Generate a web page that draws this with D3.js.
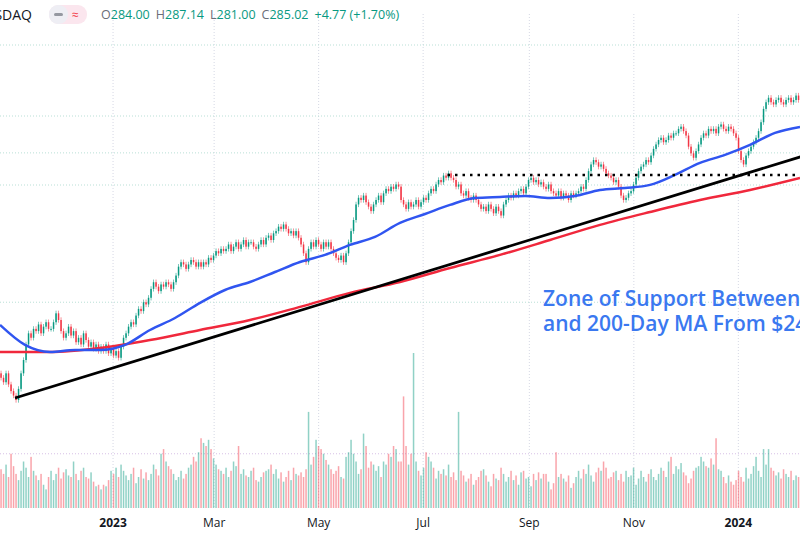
<!DOCTYPE html>
<html><head><meta charset="utf-8">
<script src="https://cdn.jsdelivr.net/npm/d3@7"></script>
<style>body{margin:0;background:#fff}svg{display:block;font-family:"Open Sans",Roboto,sans-serif}</style>
</head><body><svg id="c" width="800" height="533"></svg>
<script>
const closes = [
160,158,162,157,154,152,150,155,162,168,
175,180,178,182,181,184,180,183,185,182,
182,185,189,186,181,178,180,183,179,181,
176,178,175,180,177,174,176,173,175,172,
174,172,175,171,173,170,172,169,174,178,
180,183,185,184,188,191,190,194,193,196,
200,203,201,199,202,201,203,202,200,203,
206,210,212,211,209,211,213,212,210,212,
210,212,211,214,213,215,217,216,218,217,
218,220,217,219,221,218,220,222,219,221,
221,219,218,220,222,220,223,224,222,225,
226,228,227,229,227,225,226,224,226,223,
220,216,212,218,221,219,222,220,218,221,
219,221,218,216,214,213,215,212,216,221,
226,231,238,241,240,242,239,237,235,238,
240,242,239,243,245,244,246,245,247,246,
240,238,236,239,237,238,240,237,239,241,
240,243,245,244,247,249,248,251,250,252,
250,249,246,247,243,242,244,241,240,242,
240,238,236,237,235,238,236,234,237,235,
233,238,240,242,241,243,242,244,245,243,
246,249,250,248,249,247,248,246,245,247,
244,243,242,244,241,243,242,240,243,242,
243,244,246,245,249,253,256,258,257,255,
256,254,252,251,250,248,249,246,242,240,
241,243,244,247,250,253,255,256,258,257,
260,263,265,267,268,266,267,269,268,270,
270,272,273,271,269,264,261,259,262,265,
268,270,269,272,271,272,270,273,274,272,
271,273,272,270,268,262,258,256,260,262,
264,266,268,271,275,281,284,286,284,283,
285,286,284,283,285,286,284,285,287,285];
const volumes = [
25,22,28,20,35,27,22,18,24,30,
26,20,33,24,21,18,22,15,12,20,
24,18,22,26,19,23,25,21,20,30,
22,18,24,26,20,19,23,17,14,15,
12,15,14,18,24,22,26,20,28,24,
21,18,22,26,16,20,25,19,23,18,
22,28,25,21,35,38,30,27,25,22,
18,20,24,19,22,26,28,33,30,36,
45,42,40,44,38,32,28,25,24,22,
26,20,24,30,27,40,22,25,21,20,
24,26,18,17,20,23,24,25,28,22,
25,19,23,17,20,24,18,26,22,21,
23,20,25,62,28,33,44,40,38,35,
31,28,25,22,24,27,20,19,33,36,
44,35,30,22,25,48,40,26,30,28,
24,27,20,30,28,35,33,40,38,30,
30,72,40,28,35,100,30,24,21,26,
36,33,30,26,19,24,22,25,21,28,
20,23,18,62,24,21,17,19,22,15,
18,20,24,25,21,17,14,22,19,18,
26,22,17,20,24,18,21,15,23,24,
19,20,14,22,18,23,19,22,22,17,
12,16,36,20,22,19,17,21,13,16,
20,24,19,25,22,28,21,17,23,26,
24,30,26,19,20,23,24,18,22,17,
24,20,21,26,15,19,24,20,17,22,
25,20,18,22,26,24,20,30,33,22,
27,25,29,23,21,16,19,24,26,27,
33,30,27,26,32,28,45,25,24,20,
16,21,17,15,18,24,20,17,26,19,
22,27,33,24,20,38,28,38,26,24,
21,23,19,25,22,20,24,18,21,20];
const ma50 = [183.8,174.8,171.6,172.5,172.5,174.8,181.5,186.9,193.7,199.5,203.1,207.6,212.1,215.3,219.8,223.4,229.7,233.7,237.8,240.9,241.4,241.8,240.9,241.8,244.5,245.4,246.8,251.3,256.7,260.3,264.8,270.2,272.9];
const ma200 = [171.6,171.6,173.4,177,181.5,186,191.9,198.2,203.1,209.4,215.3,222,228.8,234.6,240,244.5,249.9];
const trendIdx = [6, 321], trendPrice = [150.9, 259.7];
const resistance = 251.3, resistanceStartIdx = 179;
const gridPrices = [309.75, 277.8, 261.2, 246.75, 194];
const monthTicks = [["2023-01-01","2023",true],["2023-03-01","Mar",false],["2023-05-01","May",false],["2023-07-01","Jul",false],["2023-09-01","Sep",false],["2023-11-01","Nov",false],["2024-01-01","2024",true]];

const svg = d3.select("#c");
const n = closes.length;
const x = d3.scaleLinear().domain([0, n]).range([0, 800]);
const xt = d3.scaleTime().domain([new Date(2022,9,27), new Date(2024,1,6)]).range([0,800]);
const y = d3.scaleLinear().domain([285,150]).range([100,400]);
const yv = d3.scaleLinear().domain([0,100]).range([508,353]);
const up="#089981", dn="#f23645";

svg.append("g").selectAll("line").data(monthTicks).join("line")
 .attr("x1",d=>xt(new Date(d[0]))).attr("x2",d=>xt(new Date(d[0]))).attr("y1",14).attr("y2",508)
 .attr("stroke","#d5d8e4").attr("stroke-dasharray","1,2");
svg.append("g").selectAll("line").data(gridPrices).join("line")
 .attr("x1",0).attr("x2",800).attr("y1",d=>y(d)).attr("y2",d=>y(d))
 .attr("stroke","#b9dfd6").attr("stroke-dasharray","1,2");
svg.append("line").attr("x1",0).attr("x2",800).attr("y1",yv(35)).attr("y2",yv(35)).attr("stroke","#d7c0e6").attr("stroke-dasharray","1,2");

const opens = closes.map((c,i)=> i===0 ? c+2 : closes[i-1]);
svg.append("g").selectAll("rect").data(volumes).join("rect")
 .attr("x",(d,i)=>x(i)+0.3).attr("width",1.5).attr("y",d=>yv(d)).attr("height",d=>508-yv(d))
 .attr("fill",(d,i)=>closes[i]>=opens[i]?"rgba(8,153,129,0.45)":"rgba(242,54,69,0.45)");

const cg = svg.append("g");
closes.forEach((c,i)=>{
  const o=opens[i], col=c>=o?up:dn, cx=x(i)+1.05;
  const hi=Math.max(o,c)+1.2, lo=Math.min(o,c)-1.2;
  cg.append("line").attr("x1",cx).attr("x2",cx).attr("y1",y(hi)).attr("y2",y(lo)).attr("stroke",col).attr("stroke-width",0.8).attr("opacity",0.7);
  cg.append("rect").attr("x",x(i)+0.3).attr("width",1.5).attr("y",y(Math.max(o,c))).attr("height",Math.max(1,Math.abs(y(o)-y(c)))).attr("fill",col);
});

const line = d3.line().curve(d3.curveMonotoneX);
svg.append("path").attr("d",line(ma200.map((v,i)=>[i*50,y(v)]))).attr("fill","none").attr("stroke","#f0283c").attr("stroke-width",2.5);
svg.append("path").attr("d",line(ma50.map((v,i)=>[i*25,y(v)]))).attr("fill","none").attr("stroke","#3055f0").attr("stroke-width",2.5);
svg.append("line").attr("x1",x(trendIdx[0])).attr("y1",y(trendPrice[0])).attr("x2",x(trendIdx[1])).attr("y2",y(trendPrice[1])).attr("stroke","#000").attr("stroke-width",2.8);
svg.append("line").attr("x1",x(resistanceStartIdx)).attr("x2",800).attr("y1",y(resistance)).attr("y2",y(resistance)).attr("stroke","#000").attr("stroke-width",2.5).attr("stroke-dasharray","2.5,5");

const ann = svg.append("g").attr("font-size",21).attr("font-weight",600).attr("fill","#3a78f0");
ann.append("text").attr("x",543).attr("y",306).text("Zone of Support Between 50-Day");
ann.append("text").attr("x",543).attr("y",331).text("and 200-Day MA From $245-$255");

svg.append("g").selectAll("text").data(monthTicks).join("text")
 .attr("x",d=>xt(new Date(d[0]))).attr("y",527).attr("text-anchor","middle").attr("font-size",12)
 .attr("font-weight",d=>d[2]?700:400).attr("fill","#131722").text(d=>d[1]);

svg.append("text").attr("x",32).attr("y",20).attr("text-anchor","end").attr("font-size",14).attr("fill","#131722").text("NASDAQ");
svg.append("rect").attr("x",49).attr("y",5).attr("width",38).attr("height",19).attr("rx",9).attr("fill","#fbe6ee");
svg.append("rect").attr("x",49).attr("y",5).attr("width",19).attr("height",19).attr("rx",9).attr("fill","#eeeef4");
svg.append("rect").attr("x",54).attr("y",13).attr("width",9).attr("height",3).attr("rx",1.5).attr("fill","#9598a1");
svg.append("text").attr("x",72).attr("y",19).attr("font-size",12).attr("fill","#f23645").text("≈");
const hdr = svg.append("text").attr("x",101).attr("y",19).attr("font-size",12.5);
[["O","284.00"],["H","287.14"],["L","281.00"],["C","285.02"]].forEach(([k,v],i)=>{
  hdr.append("tspan").attr("dx",i?6:0).attr("fill","#6a6d78").text(k);
  hdr.append("tspan").attr("fill","#089981").text(v);
});
hdr.append("tspan").attr("dx",6).attr("fill","#089981").text("+4.77 (+1.70%)");
</script></body></html>
